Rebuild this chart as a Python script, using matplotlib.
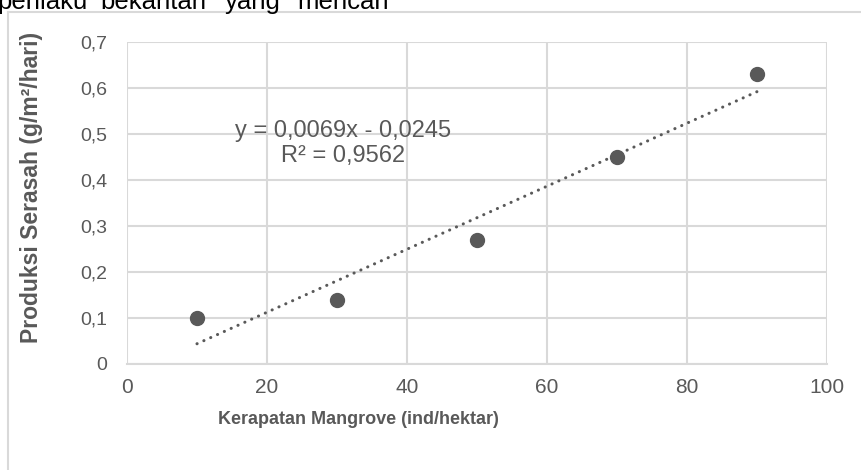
import matplotlib.pyplot as plt
from matplotlib.lines import Line2D
import numpy as np

kerapatan = [10, 30, 50, 70, 90]
produksi = [0.10, 0.14, 0.27, 0.45, 0.63]
x_ticks = [0, 20, 40, 60, 80, 100]
y_ticks = [0, 0.1, 0.2, 0.3, 0.4, 0.5, 0.6, 0.7]
y_tick_labels = ["0", "0,1", "0,2", "0,3", "0,4", "0,5", "0,6", "0,7"]
equation = "y = 0,0069x - 0,0245\nR² = 0,9562"
top_words = ["perilaku", "bekantan", "yang", "mencari"]
top_word_x = [-3, 100, 225, 297]

dark = "#595959"
grid = "#d9d9d9"
plt.rcParams["font.family"] = ["Liberation Sans", "DejaVu Sans"]

W, H = 862, 470
fig = plt.figure(figsize=(W / 100, H / 100), dpi=100)
ax = fig.add_axes([127 / W, 1 - 364 / H, 700 / W, 322 / H])

# scatter points
ax.plot(kerapatan, produksi, "o", color=dark, markersize=10, zorder=3)

# linear trendline
slope, intercept = np.polyfit(kerapatan, produksi, 1)
tx = np.array([kerapatan[0], kerapatan[-1]])
ax.plot(tx, slope * tx + intercept, color=dark, lw=2.2,
        linestyle=(0, (0.05, 2.4)), dash_capstyle="round", zorder=2)

ax.text(30.9, 0.48, equation, ha="center", va="center", color=dark,
        fontsize=17, linespacing=1.2)

ax.set_xlim(0, 100)
ax.set_ylim(0, 0.7)
ax.set_xticks(x_ticks)
ax.set_yticks(y_ticks)
ax.set_yticklabels(y_tick_labels)
ax.grid(True, color=grid, lw=1.5)
ax.set_axisbelow(True)
for s in ["top", "right", "left"]:
    ax.spines[s].set_visible(False)
ax.spines["bottom"].set_color(grid)
ax.spines["bottom"].set_linewidth(1.5)
ax.tick_params(length=0, colors=dark)
ax.tick_params(axis="y", labelsize=14, pad=14)
ax.tick_params(axis="x", labelsize=15, pad=10)

ax.set_ylabel("Produksi Serasah (g/m²/hari)", fontsize=16.5, fontweight="bold",
              color=dark)
ax.yaxis.set_label_coords(-0.12, 0.547)
ax.set_xlabel("Kerapatan Mangrove (ind/hektar)", fontsize=13,
              fontweight="bold", color=dark)
ax.xaxis.set_label_coords(0.331, -0.146)

# chart area frame
fy = 1 - 12 / H
fx = 8 / W
fig.add_artist(Line2D([fx, 1], [fy, fy], color=grid, lw=1.5))
fig.add_artist(Line2D([fx, fx], [fy, 0], color=grid, lw=1.5))

# text line above the chart, clipped by the top edge as in the source
for w, x in zip(top_words, top_word_x):
    fig.text(x / W, 1 - 9 / H, w, fontsize=18.5, color="black",
             va="baseline", ha="left")

fig.savefig("out.png", dpi=100)
